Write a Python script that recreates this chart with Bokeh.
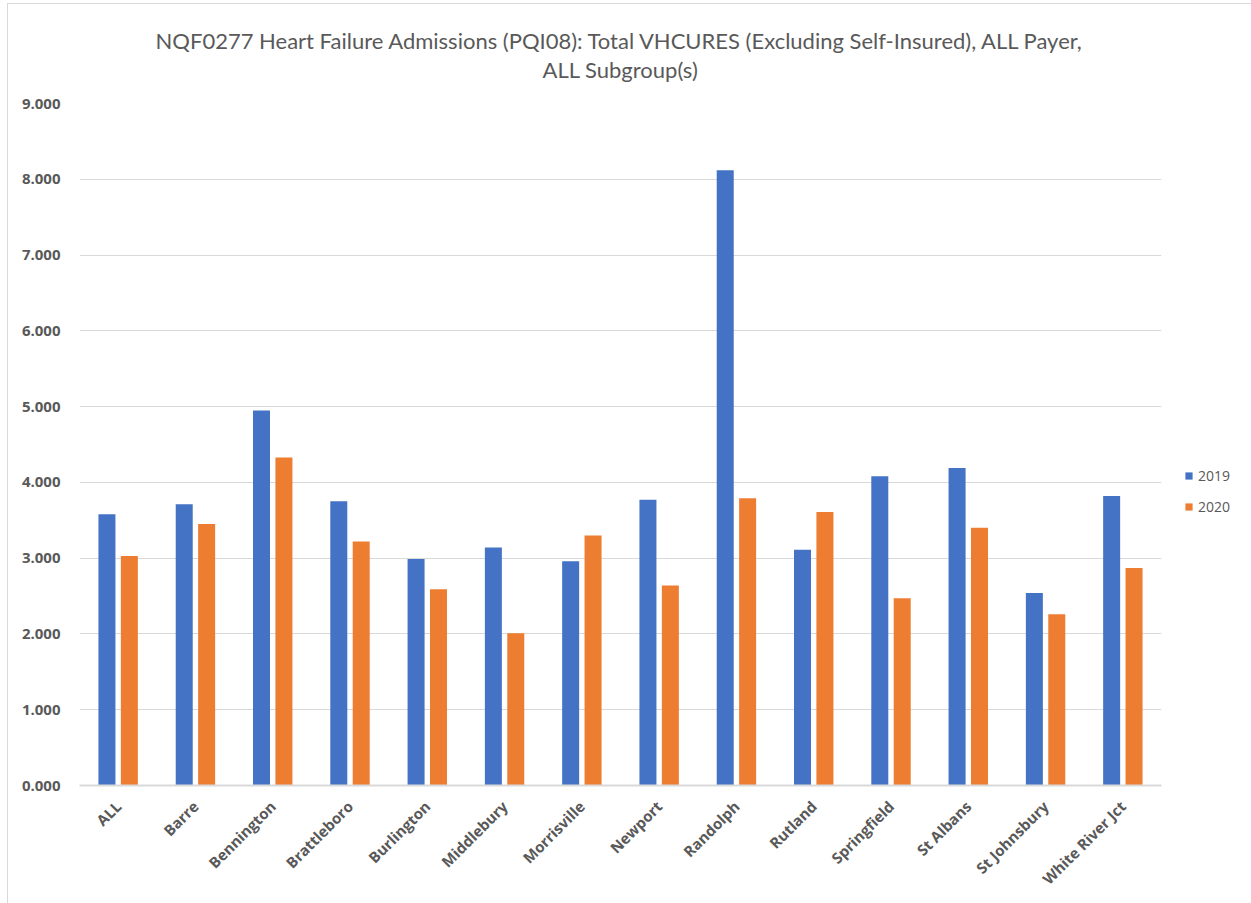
from math import pi
from bokeh.plotting import figure
from bokeh.models import ColumnDataSource, FixedTicker, PrintfTickFormatter, Range1d, Legend, LegendItem, Title
from bokeh.transform import dodge
from bokeh.embed import file_html
from bokeh.resources import INLINE

categories = ["ALL", "Barre", "Bennington", "Brattleboro", "Burlington", "Middlebury",
              "Morrisville", "Newport", "Randolph", "Rutland", "Springfield", "St Albans",
              "St Johnsbury", "White River Jct"]
v2019 = [3.58, 3.71, 4.95, 3.75, 2.99, 3.14, 2.96, 3.77, 8.12, 3.11, 4.08, 4.19, 2.54, 3.82]
v2020 = [3.03, 3.45, 4.33, 3.22, 2.59, 2.01, 3.30, 2.64, 3.79, 3.61, 2.47, 3.40, 2.26, 2.87]
y_ticks = [0, 1, 2, 3, 4, 5, 6, 7, 8, 9]
title_lines = ["NQF0277 Heart Failure Admissions (PQI08): Total VHCURES (Excluding Self-Insured), ALL Payer,",
               "ALL Subgroup(s)"]

src = ColumnDataSource(dict(cat=categories, v2019=v2019, v2020=v2020))

FONT = "Open Sans"
GREY = "#595959"

p = figure(x_range=categories, y_range=Range1d(0, 9), frame_width=1082, frame_height=682,
           output_backend="svg", toolbar_location=None,
           min_border_left=71, min_border_right=90, min_border_top=99, min_border_bottom=118)
p.margin = (3, 0, 0, 7)

def style_title(t, standoff, size="22px"):
    t.align = "center"
    t.text_font = "Lato"
    t.text_font_size = size
    t.text_font_style = "normal"
    t.text_color = GREY
    t.standoff = standoff

# p.title is the outermost line; added Titles stack from the frame outward
p.title.text = title_lines[0]
style_title(p.title, 0)
spacer = Title(text=" ")
style_title(spacer, 0, "16px")
p.add_layout(spacer, "above")
t2 = Title(text=title_lines[1])
style_title(t2, 0)
p.add_layout(t2, "above")

b1 = p.vbar(x=dodge("cat", -0.145, range=p.x_range), top="v2019", width=0.22, source=src,
            fill_color="#4472C4", line_color=None)
b2 = p.vbar(x=dodge("cat", 0.145, range=p.x_range), top="v2020", width=0.22, source=src,
            fill_color="#ED7D31", line_color=None)

legend = Legend(items=[LegendItem(label="2019", renderers=[b1]),
                       LegendItem(label="2020", renderers=[b2])],
                location=(23, 269), border_line_color=None, background_fill_alpha=0,
                label_text_font=FONT, label_text_font_size="14px", label_text_color=GREY,
                glyph_width=9, glyph_height=9, spacing=12, label_standoff=5,
                margin=0, padding=6)
p.add_layout(legend, "right")

p.yaxis.ticker = FixedTicker(ticks=y_ticks)
p.yaxis.formatter = PrintfTickFormatter(format="%.3f")
p.yaxis.axis_line_color = None
p.yaxis.major_tick_line_color = None
p.yaxis.minor_tick_line_color = None
p.yaxis.major_label_text_font = FONT
p.yaxis.major_label_text_font_style = "bold"
p.yaxis.major_label_text_font_size = "15px"
p.yaxis.major_label_text_color = GREY
p.yaxis.major_label_standoff = 13

p.xaxis.axis_line_color = "#d9d9d9"
p.xaxis.axis_line_width = 2
p.xaxis.major_tick_line_color = None
p.xaxis.minor_tick_line_color = None
p.xaxis.major_label_orientation = pi / 4
p.xaxis.major_label_text_font = FONT
p.xaxis.major_label_text_font_style = "bold"
p.xaxis.major_label_text_font_size = "15px"
p.xaxis.major_label_text_color = GREY
p.xaxis.major_label_standoff = 12

p.xgrid.grid_line_color = None
p.ygrid.grid_line_color = "#d9d9d9"
p.ygrid.grid_line_width = 1
p.outline_line_color = None
p.styles = {"border": "1px solid #d9d9d9"}

open("out.html", "w").write(file_html(p, INLINE))
